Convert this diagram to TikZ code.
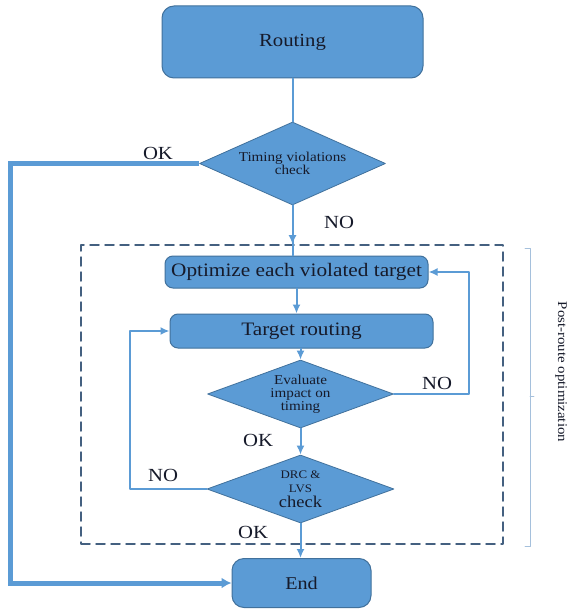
\documentclass[tikz,border=0pt]{standalone}
\usepackage{fontspec}
\setmainfont{Liberation Serif}[FakeStretch=1.12]
\usetikzlibrary{arrows.meta, positioning, shapes.geometric, calc}
\definecolor{boxblue}{RGB}{91,155,213}
\definecolor{boxedge}{RGB}{65,113,156}
\definecolor{frameblue}{RGB}{68,96,128}
\definecolor{bracegray}{RGB}{165,192,220}
\definecolor{inktext}{RGB}{22,26,42}
\tikzset{every node/.style={text=inktext}, every path/.style={line cap=round, line join=round}, >={Latex[length=9pt, width=8pt]}}
\tikzset{
    block/.style={draw=boxedge, line width=1pt, fill=boxblue, rounded corners=12pt, inner sep=0pt},
    decision/.style={draw=boxedge, line width=0.8pt, fill=boxblue, diamond, inner sep=0pt, align=center},
    flow/.style={draw=boxblue, line width=2pt},
    mainflow/.style={draw=boxblue, line width=5pt, line cap=butt, line join=miter},
    lbl/.style={font=\fontsize{18.5}{20}\selectfont, inner sep=0pt},
    frame/.style={draw=frameblue, line width=1.5pt, dash pattern=on 9pt off 6pt, inner sep=0pt}
}

\begin{document}
\begin{tikzpicture}[x=1pt, y=-1pt]
    \useasboundingbox (0,0) rectangle (569,609);
    \fill [white] (0,0) rectangle (569,609);

    % post-route optimization frame
    \node [frame, minimum width=422pt, minimum height=299pt] (frame) at (292,394.5) {};
    \draw [bracegray, line width=0.8pt] (525,248) -- (530,248) -- (530,546) -- (525,546) (530,396) -- (534,396);
    \node [rotate=-90, font=\fontsize{13.3}{14}\selectfont] (side) at (561,372) {Post-route optimization};

    % blocks
    \node [block, minimum width=261pt, minimum height=72pt, font=\fontsize{18.5}{20}\selectfont] (routing) at (292.5,42) {Routing};
    \node [decision, aspect=2.24, minimum width=186pt, minimum height=83pt, font=\fontsize{13.5}{13}\selectfont] (timing) at (292.5,163.5) {Timing violations\\check};
    \node [block, rounded corners=8pt, minimum width=263pt, minimum height=32pt, font=\fontsize{19}{20}\selectfont] (opt) at (296.5,272) {Optimize each violated target};
    \node [block, rounded corners=8pt, minimum width=263pt, minimum height=34pt, font=\fontsize{19}{20}\selectfont] (target) at (301.5,331) {Target routing};
    \node [decision, aspect=2.74, minimum width=186pt, minimum height=68pt, font=\fontsize{13.5}{13}\selectfont] (eval) at (300.5,394) {Evaluate\\impact on\\timing};
    \node [decision, aspect=2.75, minimum width=187pt, minimum height=68pt, font=\fontsize{11.5}{14}\selectfont] (drc) at (300.5,489) {DRC \&\\LVS\\[1pt]{\fontsize{16.5}{14}\selectfont check}};
    \node [block, minimum width=139pt, minimum height=49pt, font=\fontsize{18}{20}\selectfont] (endbox) at (301.5,583) {End};

    % connectors
    \draw [flow] (routing.south) -- (timing.north);
    \draw [flow] (timing.south) -- (timing.south |- opt.north);
    \draw [flow, ->] (timing.south) -- (timing.south |- frame.north);
    \coordinate (rail) at (10,300);
    \draw [mainflow, -{Latex[length=10pt, width=11pt]}] (timing.west) -| (rail) |- (endbox.west);
    \draw [flow, ->] (opt.south) -- (opt.south |- target.north);
    \draw [flow, ->] (eval.north |- target.south) -- (eval.north);
    \draw [flow, ->] (eval.south) -- (drc.north);
    \draw [flow, ->] (drc.south) -- (drc.south |- endbox.north);
    \draw [flow, ->] (eval.east) -- ++(75,0) |- (opt.east);
    \draw [flow, ->] (drc.west) -- ++(-77,0) |- (target.west);

    % labels
    \node [lbl] (okmain) at (158,153) {OK};
    \node [lbl] (nomain) at (339,222) {NO};
    \node [lbl] (noeval) at (437,383) {NO};
    \node [lbl] (okeval) at (258,440) {OK};
    \node [lbl] (nodrc) at (163,475) {NO};
    \node [lbl] (okdrc) at (253,532) {OK};
\end{tikzpicture}
\end{document}
